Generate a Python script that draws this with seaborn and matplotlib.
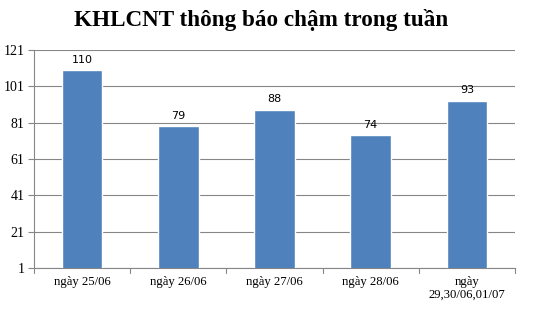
import matplotlib
matplotlib.use("Agg")
import matplotlib.pyplot as plt
import seaborn as sns
import pandas as pd

categories = ["ngày 25/06", "ngày 26/06", "ngày 27/06", "ngày 28/06", "ngày\n29,30/06,01/07"]
values = [110, 79, 88, 74, 93]
yticks = [1, 21, 41, 61, 81, 101, 121]

sns.set_theme(style="white")
plt.rcParams['font.family'] = ['Liberation Serif', 'DejaVu Serif']

df = pd.DataFrame({"cat": categories, "val": values})

fig = plt.figure(figsize=(5.37, 3.09), dpi=100)
ax = fig.add_axes([34/537, 1 - 268/309, (515-34)/537, (268-50)/309])

sns.barplot(data=df, x="cat", y="val", color="#4F81BD", width=0.42, saturation=1, ax=ax, zorder=3)

ax.set_ylim(1, 121)
ax.set_yticks(yticks)
ax.set_yticklabels([str(t) for t in yticks], fontsize=10, color="black")
ax.set_xlim(-0.5, len(categories) - 0.5)
ax.set_xticks(range(len(categories)))
ax.set_xticklabels(categories, fontsize=9.2, color="black", linespacing=1.1)
ax.tick_params(axis='x', length=0, pad=6)
ax.tick_params(axis='y', length=4, direction='out', color="#868686", width=0.8, left=True, pad=3)
for b in [-0.5, 0.5, 1.5, 2.5, 3.5, 4.5]:
    ax.plot([b, b], [0, -0.025], transform=ax.get_xaxis_transform(), color="#868686", lw=0.8, clip_on=False)

ax.yaxis.grid(True, color="#868686", linewidth=0.8, zorder=0)
ax.set_axisbelow(True)
for s in ["top", "right"]:
    ax.spines[s].set_visible(False)
ax.spines["left"].set_color("#868686")
ax.spines["bottom"].set_color("#868686")
ax.spines["left"].set_linewidth(0.8)
ax.spines["bottom"].set_linewidth(0.8)
ax.set_xlabel("")
ax.set_ylabel("")

for i, v in enumerate(values):
    ax.text(i, v + 3, str(v), ha="center", va="bottom", fontsize=8,
            family=["DejaVu Sans"], color="black")

fig.text(261/537, 1 - 20/309, "KHLCNT thông báo chậm trong tuần", ha="center", va="center",
         fontsize=16.7, fontweight="bold", color="black")

fig.savefig("out.png", dpi=100)
